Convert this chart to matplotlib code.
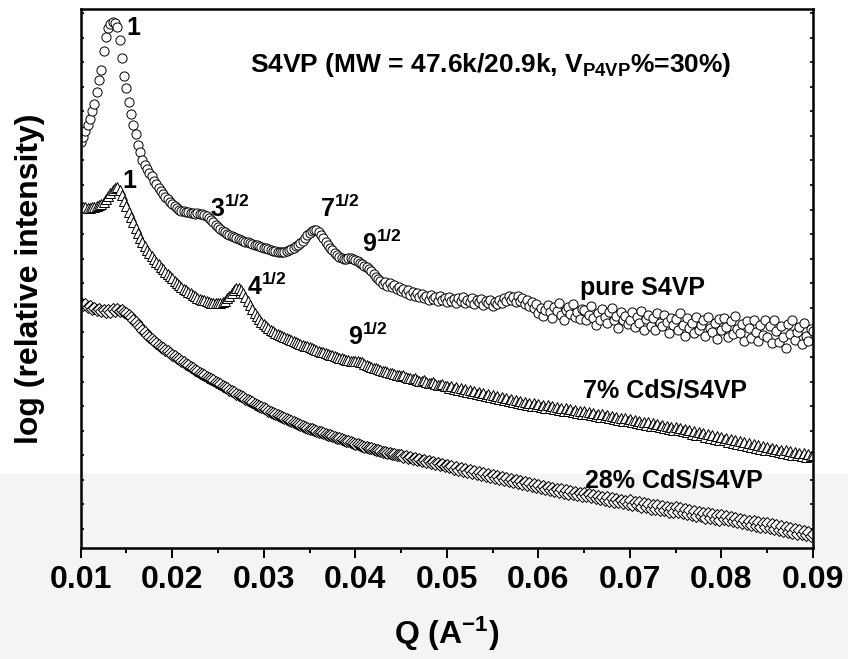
import matplotlib
matplotlib.use("Agg")
import matplotlib.pyplot as plt
from matplotlib.patches import Rectangle
from matplotlib.ticker import MultipleLocator, FixedLocator, NullFormatter

plt.rcParams['font.family'] = ['Liberation Sans', 'DejaVu Sans']
plt.rcParams['font.weight'] = 'bold'
plt.rcParams['mathtext.fontset'] = 'custom'
plt.rcParams['mathtext.rm'] = 'Liberation Sans:bold'
plt.rcParams['mathtext.it'] = 'Liberation Sans:bold'
plt.rcParams['mathtext.bf'] = 'Liberation Sans:bold'
plt.rcParams['mathtext.default'] = 'bf'

# Scattering vector Q (1/A)
q = [
    0.01000, 0.01025, 0.01050, 0.01075, 0.01100, 0.01125, 0.01150, 0.01175, 0.01200, 0.01225,
    0.01250, 0.01275, 0.01300, 0.01325, 0.01350, 0.01375, 0.01400, 0.01425, 0.01450, 0.01475,
    0.01500, 0.01525, 0.01550, 0.01575, 0.01600, 0.01625, 0.01650, 0.01675, 0.01700, 0.01725,
    0.01750, 0.01775, 0.01800, 0.01825, 0.01850, 0.01875, 0.01900, 0.01925, 0.01950, 0.01975,
    0.02000, 0.02025, 0.02050, 0.02075, 0.02100, 0.02125, 0.02150, 0.02175, 0.02200, 0.02225,
    0.02250, 0.02275, 0.02300, 0.02325, 0.02350, 0.02375, 0.02400, 0.02425, 0.02450, 0.02475,
    0.02500, 0.02525, 0.02550, 0.02575, 0.02600, 0.02625, 0.02650, 0.02675, 0.02700, 0.02725,
    0.02750, 0.02775, 0.02800, 0.02825, 0.02850, 0.02875, 0.02900, 0.02925, 0.02950, 0.02975,
    0.03000, 0.03025, 0.03050, 0.03075, 0.03100, 0.03125, 0.03150, 0.03175, 0.03200, 0.03225,
    0.03250, 0.03275, 0.03300, 0.03325, 0.03350, 0.03375, 0.03400, 0.03425, 0.03450, 0.03475,
    0.03500, 0.03525, 0.03550, 0.03575, 0.03600, 0.03625, 0.03650, 0.03675, 0.03700, 0.03725,
    0.03750, 0.03775, 0.03800, 0.03825, 0.03850, 0.03875, 0.03900, 0.03925, 0.03950, 0.03975,
    0.04000, 0.04025, 0.04050, 0.04075, 0.04100, 0.04125, 0.04150, 0.04175, 0.04200, 0.04225,
    0.04250, 0.04275, 0.04300, 0.04325, 0.04350, 0.04375, 0.04400, 0.04425, 0.04450, 0.04475,
    0.04500, 0.04525, 0.04550, 0.04575, 0.04600, 0.04625, 0.04650, 0.04675, 0.04700, 0.04725,
    0.04750, 0.04775, 0.04800, 0.04825, 0.04850, 0.04875, 0.04900, 0.04925, 0.04950, 0.04975,
    0.05000, 0.05025, 0.05050, 0.05075, 0.05100, 0.05125, 0.05150, 0.05175, 0.05200, 0.05225,
    0.05250, 0.05275, 0.05300, 0.05325, 0.05350, 0.05375, 0.05400, 0.05425, 0.05450, 0.05475,
    0.05500, 0.05525, 0.05550, 0.05575, 0.05600, 0.05625, 0.05650, 0.05675, 0.05700, 0.05725,
    0.05750, 0.05775, 0.05800, 0.05825, 0.05850, 0.05875, 0.05900, 0.05925, 0.05950, 0.05975,
    0.06000, 0.06025, 0.06050, 0.06075, 0.06100, 0.06125, 0.06150, 0.06175, 0.06200, 0.06225,
    0.06250, 0.06275, 0.06300, 0.06325, 0.06350, 0.06375, 0.06400, 0.06425, 0.06450, 0.06475,
    0.06500, 0.06525, 0.06550, 0.06575, 0.06600, 0.06625, 0.06650, 0.06675, 0.06700, 0.06725,
    0.06750, 0.06775, 0.06800, 0.06825, 0.06850, 0.06875, 0.06900, 0.06925, 0.06950, 0.06975,
    0.07000, 0.07025, 0.07050, 0.07075, 0.07100, 0.07125, 0.07150, 0.07175, 0.07200, 0.07225,
    0.07250, 0.07275, 0.07300, 0.07325, 0.07350, 0.07375, 0.07400, 0.07425, 0.07450, 0.07475,
    0.07500, 0.07525, 0.07550, 0.07575, 0.07600, 0.07625, 0.07650, 0.07675, 0.07700, 0.07725,
    0.07750, 0.07775, 0.07800, 0.07825, 0.07850, 0.07875, 0.07900, 0.07925, 0.07950, 0.07975,
    0.08000, 0.08025, 0.08050, 0.08075, 0.08100, 0.08125, 0.08150, 0.08175, 0.08200, 0.08225,
    0.08250, 0.08275, 0.08300, 0.08325, 0.08350, 0.08375, 0.08400, 0.08425, 0.08450, 0.08475,
    0.08500, 0.08525, 0.08550, 0.08575, 0.08600, 0.08625, 0.08650, 0.08675, 0.08700, 0.08725,
    0.08750, 0.08775, 0.08800, 0.08825, 0.08850, 0.08875, 0.08900, 0.08925, 0.08950, 0.08975,
    0.09000,
]

# log(relative intensity), curves shifted vertically for clarity
pure_s4vp = [
    4.08, 4.13, 4.19, 4.25, 4.31, 4.39, 4.46, 4.58, 4.70, 4.80,
    4.99, 5.13, 5.22, 5.26, 5.28, 5.27, 5.23, 5.10, 4.92, 4.74,
    4.62, 4.48, 4.36, 4.25, 4.16, 4.05, 3.98, 3.90, 3.85, 3.81,
    3.77, 3.74, 3.69, 3.66, 3.62, 3.59, 3.56, 3.53, 3.51, 3.48,
    3.46, 3.44, 3.42, 3.40, 3.39, 3.39, 3.38, 3.38, 3.37, 3.37,
    3.36, 3.37, 3.36, 3.36, 3.35, 3.34, 3.32, 3.30, 3.28, 3.25,
    3.23, 3.21, 3.19, 3.18, 3.16, 3.15, 3.14, 3.13, 3.12, 3.11,
    3.10, 3.09, 3.08, 3.08, 3.07, 3.06, 3.05, 3.05, 3.04, 3.03,
    3.02, 3.02, 3.01, 3.00, 2.99, 2.99, 2.98, 2.98, 2.98, 2.98,
    2.99, 3.00, 3.01, 3.02, 3.04, 3.05, 3.07, 3.09, 3.12, 3.15,
    3.17, 3.19, 3.20, 3.20, 3.18, 3.15, 3.12, 3.08, 3.05, 3.02,
    3.00, 2.97, 2.95, 2.93, 2.92, 2.91, 2.91, 2.92, 2.92, 2.91,
    2.90, 2.89, 2.87, 2.86, 2.84, 2.83, 2.81, 2.79, 2.76, 2.73,
    2.71, 2.69, 2.66, 2.68, 2.64, 2.67, 2.63, 2.65, 2.61, 2.63,
    2.59, 2.61, 2.57, 2.60, 2.55, 2.58, 2.54, 2.57, 2.53, 2.56,
    2.52, 2.54, 2.50, 2.55, 2.51, 2.53, 2.49, 2.54, 2.50, 2.52,
    2.48, 2.53, 2.49, 2.51, 2.47, 2.52, 2.49, 2.53, 2.47, 2.50,
    2.48, 2.52, 2.46, 2.50, 2.48, 2.51, 2.45, 2.49, 2.47, 2.50,
    2.44, 2.48, 2.46, 2.50, 2.47, 2.52, 2.49, 2.54, 2.50, 2.53,
    2.48, 2.54, 2.49, 2.52, 2.46, 2.50, 2.44, 2.48, 2.42, 2.46,
    2.37, 2.42, 2.34, 2.40, 2.45, 2.38, 2.32, 2.43, 2.39, 2.47,
    2.35, 2.30, 2.40, 2.43, 2.36, 2.46, 2.33, 2.38, 2.31, 2.41,
    2.40, 2.30, 2.35, 2.44, 2.32, 2.25, 2.37, 2.30, 2.41, 2.33,
    2.27, 2.38, 2.42, 2.30, 2.34, 2.22, 2.38, 2.30, 2.34, 2.26,
    2.30, 2.38, 2.23, 2.33, 2.27, 2.39, 2.20, 2.31, 2.35, 2.24,
    2.32, 2.20, 2.37, 2.27, 2.24, 2.35, 2.28, 2.17, 2.32, 2.25,
    2.31, 2.20, 2.37, 2.25, 2.14, 2.32, 2.22, 2.27, 2.17, 2.33,
    2.20, 2.25, 2.30, 2.14, 2.33, 2.22, 2.18, 2.27, 2.11, 2.31,
    2.20, 2.32, 2.23, 2.13, 2.29, 2.16, 2.34, 2.21, 2.17, 2.26,
    2.09, 2.29, 2.22, 2.12, 2.30, 2.18, 2.09, 2.25, 2.15, 2.30,
    2.13, 2.24, 2.07, 2.30, 2.19, 2.08, 2.24, 2.13, 2.02, 2.26,
    2.16, 2.30, 2.10, 2.18, 2.23, 2.06, 2.27, 2.14, 2.09, 2.21,
    2.19,
]

cds_7 = [
    3.44, 3.43, 3.43, 3.42, 3.42, 3.43, 3.43, 3.44, 3.45, 3.46,
    3.48, 3.51, 3.54, 3.57, 3.60, 3.62, 3.63, 3.60, 3.55, 3.49,
    3.44, 3.38, 3.33, 3.28, 3.22, 3.17, 3.12, 3.08, 3.04, 3.00,
    2.97, 2.94, 2.91, 2.88, 2.86, 2.83, 2.81, 2.78, 2.76, 2.74,
    2.72, 2.69, 2.67, 2.65, 2.63, 2.61, 2.60, 2.58, 2.57, 2.55,
    2.54, 2.52, 2.51, 2.50, 2.50, 2.49, 2.48, 2.47, 2.47, 2.47,
    2.47, 2.47, 2.48, 2.49, 2.52, 2.54, 2.57, 2.60, 2.62, 2.62,
    2.60, 2.57, 2.53, 2.49, 2.45, 2.41, 2.37, 2.34, 2.31, 2.28,
    2.26, 2.24, 2.22, 2.20, 2.19, 2.17, 2.16, 2.15, 2.14, 2.13,
    2.12, 2.11, 2.10, 2.09, 2.08, 2.07, 2.06, 2.05, 2.04, 2.04,
    2.03, 2.02, 2.01, 2.00, 1.99, 1.98, 1.98, 1.97, 1.96, 1.95,
    1.95, 1.94, 1.93, 1.92, 1.92, 1.91, 1.90, 1.90, 1.89, 1.89,
    1.89, 1.89, 1.88, 1.88, 1.86, 1.85, 1.84, 1.83, 1.82, 1.82,
    1.81, 1.80, 1.79, 1.79, 1.78, 1.77, 1.77, 1.76, 1.75, 1.75,
    1.74, 1.75, 1.73, 1.72, 1.72, 1.71, 1.72, 1.70, 1.69, 1.69,
    1.70, 1.68, 1.67, 1.67, 1.68, 1.66, 1.65, 1.65, 1.66, 1.64,
    1.64, 1.62, 1.64, 1.61, 1.63, 1.60, 1.62, 1.59, 1.61, 1.58,
    1.60, 1.57, 1.59, 1.56, 1.58, 1.55, 1.57, 1.54, 1.56, 1.53,
    1.55, 1.52, 1.54, 1.51, 1.53, 1.50, 1.52, 1.49, 1.51, 1.48,
    1.50, 1.47, 1.49, 1.46, 1.48, 1.45, 1.47, 1.44, 1.47, 1.44,
    1.46, 1.43, 1.45, 1.42, 1.45, 1.42, 1.44, 1.41, 1.43, 1.40,
    1.42, 1.39, 1.42, 1.39, 1.41, 1.38, 1.40, 1.37, 1.39, 1.36,
    1.39, 1.36, 1.38, 1.35, 1.37, 1.34, 1.36, 1.33, 1.36, 1.33,
    1.35, 1.32, 1.34, 1.31, 1.33, 1.30, 1.32, 1.29, 1.32, 1.29,
    1.31, 1.28, 1.30, 1.27, 1.29, 1.26, 1.28, 1.25, 1.28, 1.24,
    1.27, 1.24, 1.26, 1.23, 1.25, 1.22, 1.24, 1.21, 1.23, 1.20,
    1.23, 1.20, 1.22, 1.19, 1.21, 1.18, 1.20, 1.16, 1.19, 1.15,
    1.18, 1.15, 1.17, 1.13, 1.16, 1.12, 1.15, 1.11, 1.14, 1.10,
    1.13, 1.10, 1.12, 1.08, 1.11, 1.07, 1.10, 1.06, 1.09, 1.05,
    1.08, 1.04, 1.07, 1.03, 1.06, 1.02, 1.05, 1.01, 1.04, 1.00,
    1.03, 1.00, 1.02, 0.99, 1.01, 0.98, 1.00, 0.97, 1.00, 0.96,
    0.99, 0.95, 0.98, 0.95, 0.97, 0.94, 0.97, 0.93, 0.96, 0.94,
    0.95,
]

cds_28 = [
    2.47, 2.45, 2.46, 2.43, 2.44, 2.41, 2.42, 2.40, 2.41, 2.39,
    2.40, 2.38, 2.40, 2.38, 2.41, 2.39, 2.41, 2.39, 2.40, 2.38,
    2.37, 2.35, 2.33, 2.30, 2.28, 2.25, 2.23, 2.20, 2.18, 2.15,
    2.13, 2.11, 2.09, 2.07, 2.05, 2.03, 2.02, 2.00, 1.99, 1.97,
    1.95, 1.94, 1.92, 1.91, 1.89, 1.88, 1.86, 1.85, 1.83, 1.82,
    1.80, 1.79, 1.77, 1.76, 1.75, 1.73, 1.72, 1.71, 1.70, 1.68,
    1.67, 1.66, 1.64, 1.63, 1.62, 1.60, 1.59, 1.58, 1.56, 1.55,
    1.54, 1.53, 1.51, 1.50, 1.49, 1.48, 1.46, 1.45, 1.44, 1.43,
    1.42, 1.41, 1.39, 1.38, 1.37, 1.36, 1.35, 1.34, 1.33, 1.32,
    1.31, 1.30, 1.29, 1.28, 1.27, 1.26, 1.25, 1.24, 1.23, 1.22,
    1.21, 1.21, 1.20, 1.19, 1.18, 1.18, 1.17, 1.16, 1.15, 1.15,
    1.14, 1.13, 1.12, 1.12, 1.11, 1.10, 1.09, 1.09, 1.08, 1.07,
    1.06, 1.06, 1.05, 1.04, 1.03, 1.03, 1.02, 1.02, 1.01, 1.00,
    1.00, 0.99, 0.98, 0.98, 0.97, 0.97, 0.96, 0.96, 0.95, 0.95,
    0.95, 0.93, 0.94, 0.92, 0.93, 0.91, 0.92, 0.90, 0.91, 0.89,
    0.90, 0.88, 0.89, 0.87, 0.88, 0.86, 0.87, 0.85, 0.86, 0.84,
    0.85, 0.83, 0.84, 0.81, 0.83, 0.80, 0.82, 0.79, 0.81, 0.78,
    0.80, 0.77, 0.79, 0.76, 0.78, 0.75, 0.77, 0.74, 0.76, 0.73,
    0.75, 0.72, 0.74, 0.71, 0.73, 0.70, 0.72, 0.69, 0.71, 0.68,
    0.70, 0.67, 0.69, 0.66, 0.68, 0.65, 0.67, 0.64, 0.66, 0.63,
    0.65, 0.62, 0.64, 0.61, 0.63, 0.60, 0.62, 0.59, 0.61, 0.58,
    0.61, 0.57, 0.60, 0.56, 0.59, 0.56, 0.58, 0.55, 0.57, 0.54,
    0.57, 0.54, 0.56, 0.53, 0.55, 0.52, 0.54, 0.51, 0.53, 0.50,
    0.53, 0.49, 0.52, 0.48, 0.51, 0.48, 0.50, 0.47, 0.49, 0.46,
    0.50, 0.45, 0.48, 0.45, 0.48, 0.43, 0.47, 0.43, 0.46, 0.41,
    0.45, 0.41, 0.45, 0.40, 0.44, 0.40, 0.43, 0.38, 0.42, 0.38,
    0.43, 0.38, 0.42, 0.37, 0.41, 0.36, 0.40, 0.35, 0.39, 0.34,
    0.38, 0.34, 0.37, 0.32, 0.37, 0.32, 0.36, 0.31, 0.35, 0.30,
    0.35, 0.31, 0.34, 0.30, 0.33, 0.29, 0.32, 0.28, 0.31, 0.27,
    0.30, 0.26, 0.29, 0.25, 0.29, 0.24, 0.28, 0.23, 0.27, 0.23,
    0.27, 0.22, 0.26, 0.21, 0.25, 0.20, 0.24, 0.19, 0.23, 0.18,
    0.22, 0.17, 0.21, 0.16, 0.20, 0.16, 0.19, 0.15, 0.18, 0.14,
    0.16,
]

x_ticks = [0.01, 0.02, 0.03, 0.04, 0.05, 0.06, 0.07, 0.08, 0.09]
x_tick_labels = ["0.01", "0.02", "0.03", "0.04", "0.05", "0.06", "0.07", "0.08", "0.09"]

fig = plt.figure(figsize=(8.48, 6.59), dpi=100)
fig.patches.append(Rectangle((0, 0), 1, 185 / 659, transform=fig.transFigure,
                             facecolor='#f4f4f4', edgecolor='none', zorder=-10))
ax = fig.add_axes([80.7 / 848, 1 - 548 / 659, (813 - 80.7) / 848, (548 - 9) / 659])
ax.set_facecolor('none')

mk = dict(linestyle='none', mfc='white', mec='black', mew=0.7)
ax.plot(q, pure_s4vp, marker='o', ms=6.6, **mk)
ax.plot(q, cds_7, marker='^', ms=6.6, **mk)
ax.plot(q, cds_28, marker='D', ms=6.0, **mk)

ax.set_xlim(0.01, 0.09)
ax.set_ylim(0.02, 5.41)

ax.set_xticks(x_ticks)
ax.set_xticklabels(x_tick_labels)
ax.xaxis.set_minor_locator(MultipleLocator(0.005))
ax.tick_params(axis='x', which='major', direction='out', length=7.5, width=1.4,
               labelsize=23, pad=5, top=False)
ax.tick_params(axis='x', which='minor', direction='out', length=3.8, width=1.4, top=False)
for lab in ax.get_xticklabels():
    lab.set_fontweight('bold')

ax.yaxis.set_major_locator(FixedLocator([0.21 + 0.2457 * k for k in range(22)]))
ax.yaxis.set_major_formatter(NullFormatter())
ax.tick_params(axis='y', which='major', direction='in', length=2.0, width=1.2,
               left=True, right=True)

for sp in ax.spines.values():
    sp.set_linewidth(1.8)

ax.set_xlabel(r"Q (A$^{-1}$)", fontsize=23, fontweight='bold', labelpad=14)
ax.set_ylabel("log (relative intensity)", fontsize=23, fontweight='bold', labelpad=22)

ts = dict(fontsize=18, fontweight='bold', va='baseline')
ax.text(0.0150, 5.15, "1", **ts)
ax.text(0.0145, 3.62, "1", **ts)
ax.text(0.0241, 3.33, r"3$^{1/2}$", **ts)
ax.text(0.0361, 3.33, r"7$^{1/2}$", **ts)
ax.text(0.0407, 2.98, r"9$^{1/2}$", **ts)
ax.text(0.0282, 2.55, r"4$^{1/2}$", **ts)
ax.text(0.0392, 2.05, r"9$^{1/2}$", **ts)

ax.text(0.0285, 4.78, r"S4VP (MW = 47.6k/20.9k, V$_{P4VP}$%=30%)",
        fontsize=19, fontweight='bold', va='baseline')
ax.text(0.0646, 2.55, "pure S4VP", **ts)
ax.text(0.0828, 1.52, "7% CdS/S4VP", ha='right', **ts)
ax.text(0.0845, 0.63, "28% CdS/S4VP", ha='right', **ts)

fig.savefig("out.png", dpi=100)
